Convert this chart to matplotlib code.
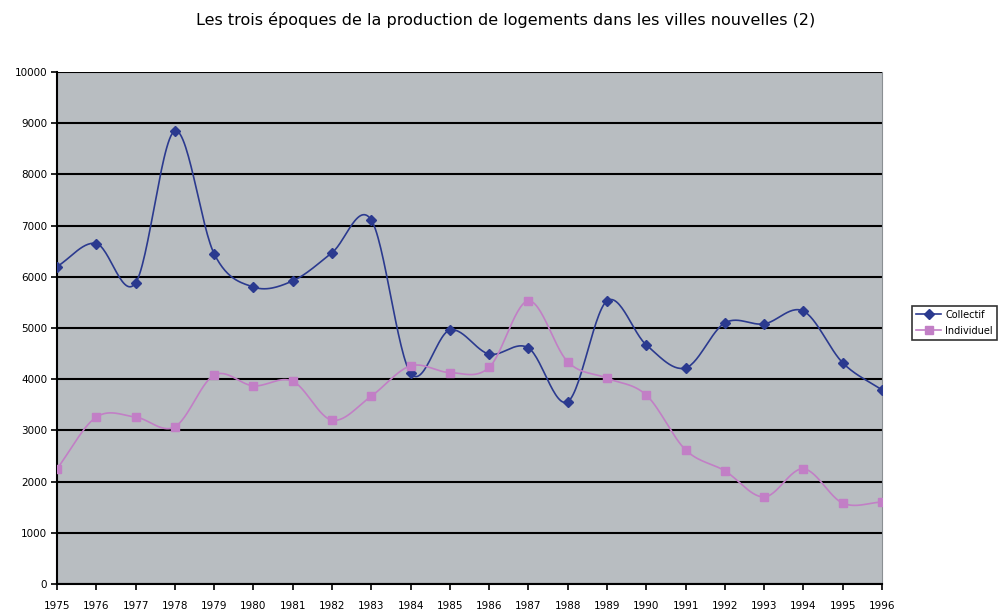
import numpy as np
import matplotlib
matplotlib.use('Agg')
import matplotlib.pyplot as plt
from matplotlib.lines import Line2D

years = list(range(1975, 1997))
collectif = [6200, 6650, 5880, 8850, 6450, 5800, 5920, 6470, 7110, 4120, 4960,
             4490, 4610, 3560, 5530, 4670, 4220, 5100, 5080, 5330, 4320, 3790]
individuel = [2250, 3260, 3260, 3070, 4080, 3870, 3960, 3200, 3670, 4260, 4130,
              4230, 5530, 4340, 4020, 3690, 2620, 2210, 1700, 2250, 1580, 1600]
title = "Les trois époques de la production de logements dans les villes nouvelles (2)"


def smooth(x, y, n=30):
    # catmull-rom spline, close to the excel "smoothed line"
    x = np.asarray(x, float)
    y = np.asarray(y, float)
    px = np.concatenate([[2 * x[0] - x[1]], x, [2 * x[-1] - x[-2]]])
    py = np.concatenate([[2 * y[0] - y[1]], y, [2 * y[-1] - y[-2]]])
    xs, ys = [], []
    t = np.linspace(0, 1, n)
    for i in range(1, len(px) - 2):
        for p, out in ((px, xs), (py, ys)):
            p0, p1, p2, p3 = p[i - 1], p[i], p[i + 1], p[i + 2]
            out.extend(0.5 * (2 * p1 + (-p0 + p2) * t
                              + (2 * p0 - 5 * p1 + 4 * p2 - p3) * t ** 2
                              + (-p0 + 3 * p1 - 3 * p2 + p3) * t ** 3))
    return np.array(xs), np.array(ys)


blue = '#2b3a8f'
pink = '#c27fc6'

fig = plt.figure(figsize=(10.03, 6.12), dpi=100)
ax = fig.add_axes([57 / 1003, 1 - 584 / 612, 825 / 1003, 512 / 612])
ax.set_facecolor('#b8bdc1')

for vals, col, mk, ms in ((collectif, blue, 'D', 5), (individuel, pink, 's', 6)):
    sx, sy = smooth(years, vals)
    ax.plot(sx, sy, color=col, lw=1.2, zorder=3)
    ax.plot(years, vals, ls='none', marker=mk, ms=ms, color=col, zorder=4)

ax.set_xlim(1975, 1996)
ax.set_ylim(0, 10000)
ax.set_xticks(years)
ax.set_yticks(range(0, 10001, 1000))
ax.yaxis.grid(True, color='black', lw=1.5)
ax.set_axisbelow(True)
ax.tick_params(direction='out', length=4, width=1.2, labelsize=7.5, pad=3)
ax.tick_params(axis='x', pad=8)
for s in ('left', 'bottom'):
    ax.spines[s].set_linewidth(1.5)
ax.spines['top'].set_visible(False)
ax.spines['right'].set_color('#8a8f93')

fig.text(506 / 1003, 1 - 20 / 612, title, ha='center', va='center', fontsize=11.5)

handles = [Line2D([], [], color=blue, marker='D', ms=5, lw=1.2),
           Line2D([], [], color=pink, marker='s', ms=6, lw=1.2)]
leg = fig.legend(handles, ['Collectif', 'Individuel'], loc='upper left',
                 bbox_to_anchor=(912 / 1003, 1 - 306 / 612), fontsize=7,
                 frameon=True, fancybox=False, edgecolor='black',
                 handlelength=2.6, handletextpad=0.4, borderaxespad=0,
                 labelspacing=0.6, borderpad=0.4)
leg.get_frame().set_linewidth(1.2)

fig.savefig('out.png', dpi=100, facecolor='white')
